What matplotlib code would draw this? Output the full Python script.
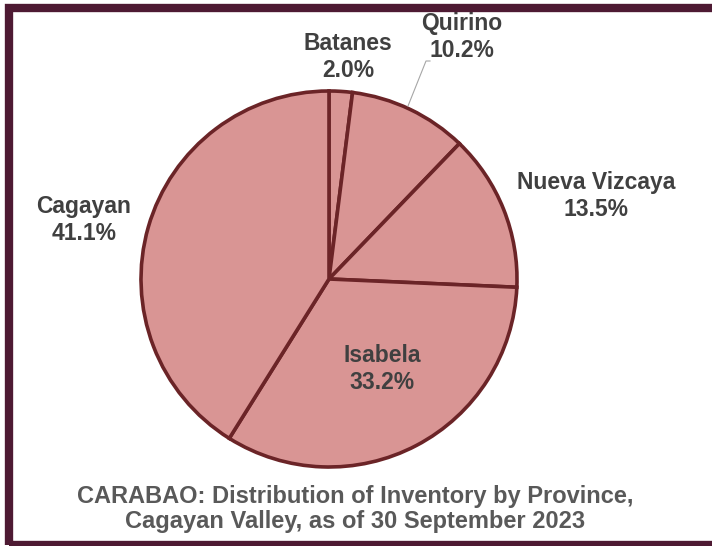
import matplotlib
matplotlib.use('Agg')

import matplotlib.pyplot as plt
from matplotlib.patches import Rectangle

provinces = ['Batanes', 'Quirino', 'Nueva Vizcaya', 'Isabela', 'Cagayan']
shares = [2.0, 10.2, 13.5, 33.2, 41.1]

title_lines = ['CARABAO: Distribution of Inventory by Province,',
               'Cagayan Valley, as of 30 September 2023']

fill = '#D99594'
edge = '#6B2427'
frame = '#4E1A33'
text_col = '#404040'

plt.rcParams['font.family'] = ['Liberation Sans', 'DejaVu Sans']

W, H = 712, 546
fig = plt.figure(figsize=(W / 100, H / 100), dpi=100)

# pie centre / radius in pixels
cx, cy, r = 329, 279, 188
ax = fig.add_axes([(cx - r) / W, (H - cy - r) / H, 2 * r / W, 2 * r / H])
ax.pie(shares, startangle=90, counterclock=False,
       colors=[fill] * len(shares),
       wedgeprops=dict(edgecolor=edge, linewidth=2.6))
ax.set_xlim(-1, 1)
ax.set_ylim(-1, 1)
ax.set_aspect('equal')
ax.axis('off')

# label positions in pixels (x, y from top)
label_pos = {
    'Batanes': (348, 57),
    'Quirino': (462, 37),
    'Nueva Vizcaya': (596, 196),
    'Isabela': (382, 369),
    'Cagayan': (84, 220),
}
for name, val in zip(provinces, shares):
    px, py = label_pos[name]
    fig.text(px / W, 1 - py / H, '%s\n%.1f%%' % (name, val),
             ha='center', va='center', fontsize=16.5, fontweight='bold',
             color=text_col, linespacing=1.22)

# leader line for Quirino
fig.lines.append(plt.Line2D([408 / W, 426 / W, 430 / W],
                            [1 - 106 / H, 1 - 61 / H, 1 - 61 / H],
                            transform=fig.transFigure, color='#A6A6A6',
                            linewidth=0.8))

fig.text(355 / W, 1 - 509 / H, '\n'.join(title_lines),
         ha='center', va='center', fontsize=17, fontweight='bold',
         color='#595959', linespacing=1.12)

# dark frame around the chart (right side runs off the image)
fig.patches.append(Rectangle((9 / W, 1.5 / H), 1.05, (538 - 1.5) / H,
                             transform=fig.transFigure, fill=False,
                             edgecolor=frame, linewidth=6, zorder=10))

fig.savefig('out.png', dpi=100)
